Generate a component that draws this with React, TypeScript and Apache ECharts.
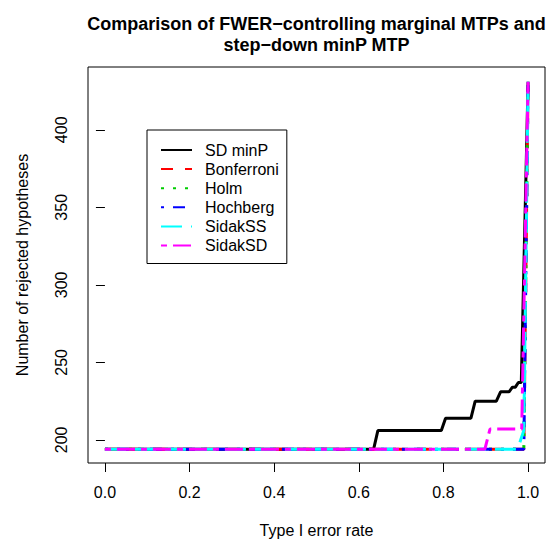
import React, { useEffect, useRef } from "react";
import * as echarts from "echarts";

const FONT = "'Liberation Sans', Arial, Helvetica, sans-serif";

const titleLines = ["Comparison of FWER\u2212controlling marginal MTPs and", "step\u2212down minP MTP"];
const xTicks = [0, 0.2, 0.4, 0.6, 0.8, 1.0];
const yTicks = [200, 250, 300, 350, 400];

const seriesNames = ["SD minP", "Bonferroni", "Holm", "Hochberg", "SidakSS", "SidakSD"];
const seriesColors = ["#000000", "#FF0000", "#00CD00", "#0000FF", "#00FFFF", "#FF00FF"];
const seriesDashes: (string | number[])[] = ["solid", [12, 12], [3, 9], [3, 9, 12, 9], [21, 9], [6, 6, 18, 6]];

// [type I error rate, number of rejected hypotheses]
const sdMinP = [
  [0, 194], [0.635, 194], [0.645, 206], [0.795, 206], [0.805, 214], [0.865, 214],
  [0.875, 225], [0.925, 225], [0.935, 231], [0.955, 231], [0.963, 234], [0.97, 234],
  [0.977, 237], [0.984, 237], [1.0, 431],
];
const bonferroni = [[0, 194], [0.99, 194], [1.0, 431]];
const holm = [[0, 194], [0.99, 194], [1.0, 431]];
const hochberg = [[0, 194], [0.99, 194], [1.0, 431]];
const sidakSS = [[0, 194], [0.975, 194], [0.99, 206], [1.0, 431]];
const sidakSD = [[0, 194], [0.898, 194], [0.91, 207], [0.985, 207], [1.0, 431]];

const seriesData = [sdMinP, bonferroni, holm, hochberg, sidakSS, sidakSD];

export default function App() {
  const ref = useRef<HTMLDivElement>(null);
  useEffect(() => {
    if (!ref.current) return;
    const chart = echarts.init(ref.current, undefined, { renderer: "svg" });
    chart.setOption({
      animation: false,
      backgroundColor: "#ffffff",
      title: {
        text: titleLines.join("\n"),
        left: 316.5,
        top: 13,
        padding: 0,
        textAlign: "center",
        textStyle: { fontFamily: FONT, fontSize: 18, fontWeight: "bold", color: "#000", lineHeight: 21 },
      },
      legend: {
        orient: "vertical",
        left: 147,
        top: 130,
        padding: [12, 8, 10, 13],
        itemWidth: 31,
        itemHeight: 16,
        itemGap: 3.1,
        borderColor: "#000",
        borderWidth: 1,
        borderRadius: 0,
        backgroundColor: "#fff",
        data: seriesNames,
        itemStyle: { opacity: 0 },
        textStyle: { fontFamily: FONT, fontSize: 16, color: "#000", padding: [0, 0, 0, 8] },
      },
      grid: {
        left: 88,
        top: 67,
        width: 457,
        height: 399,
        show: true,
        borderColor: "#000",
        borderWidth: 1,
        backgroundColor: "transparent",
      },
      xAxis: {
        type: "value",
        min: -0.04,
        max: 1.04,
        name: "Type I error rate",
        nameLocation: "middle",
        nameGap: 59,
        nameTextStyle: { fontFamily: FONT, fontSize: 16, color: "#000" },
        axisLine: { show: false },
        splitLine: { show: false },
        axisTick: { show: true, length: 9, customValues: xTicks, lineStyle: { color: "#000" } },
        axisLabel: {
          customValues: xTicks,
          margin: 21.5,
          fontFamily: FONT,
          fontSize: 16,
          color: "#000",
          formatter: (v: number) => v.toFixed(1),
        },
      },
      yAxis: {
        type: "value",
        min: 185.1,
        max: 440.5,
        name: "Number of rejected hypotheses",
        nameLocation: "middle",
        nameGap: 58,
        nameRotate: 90,
        nameTextStyle: { fontFamily: FONT, fontSize: 16, color: "#000" },
        axisLine: { show: false },
        splitLine: { show: false },
        axisTick: { show: true, length: 9, customValues: yTicks, lineStyle: { color: "#000" } },
        axisLabel: {
          customValues: yTicks,
          rotate: 90,
          margin: 19,
          fontFamily: FONT,
          fontSize: 16,
          color: "#000",
        },
      },
      series: seriesNames.map((name, i) => ({
        name,
        type: "line",
        data: seriesData[i],
        showSymbol: false,
        symbol: "none",
        clip: false,
        color: seriesColors[i],
        lineStyle: { color: seriesColors[i], width: 3, type: seriesDashes[i], cap: "butt" },
      })),
    });
    return () => chart.dispose();
  }, []);
  return (
    <div
      ref={ref}
      style={{ position: "fixed", left: 0, top: 0, width: 555, height: 543, background: "#fff" }}
    />
  );
}
